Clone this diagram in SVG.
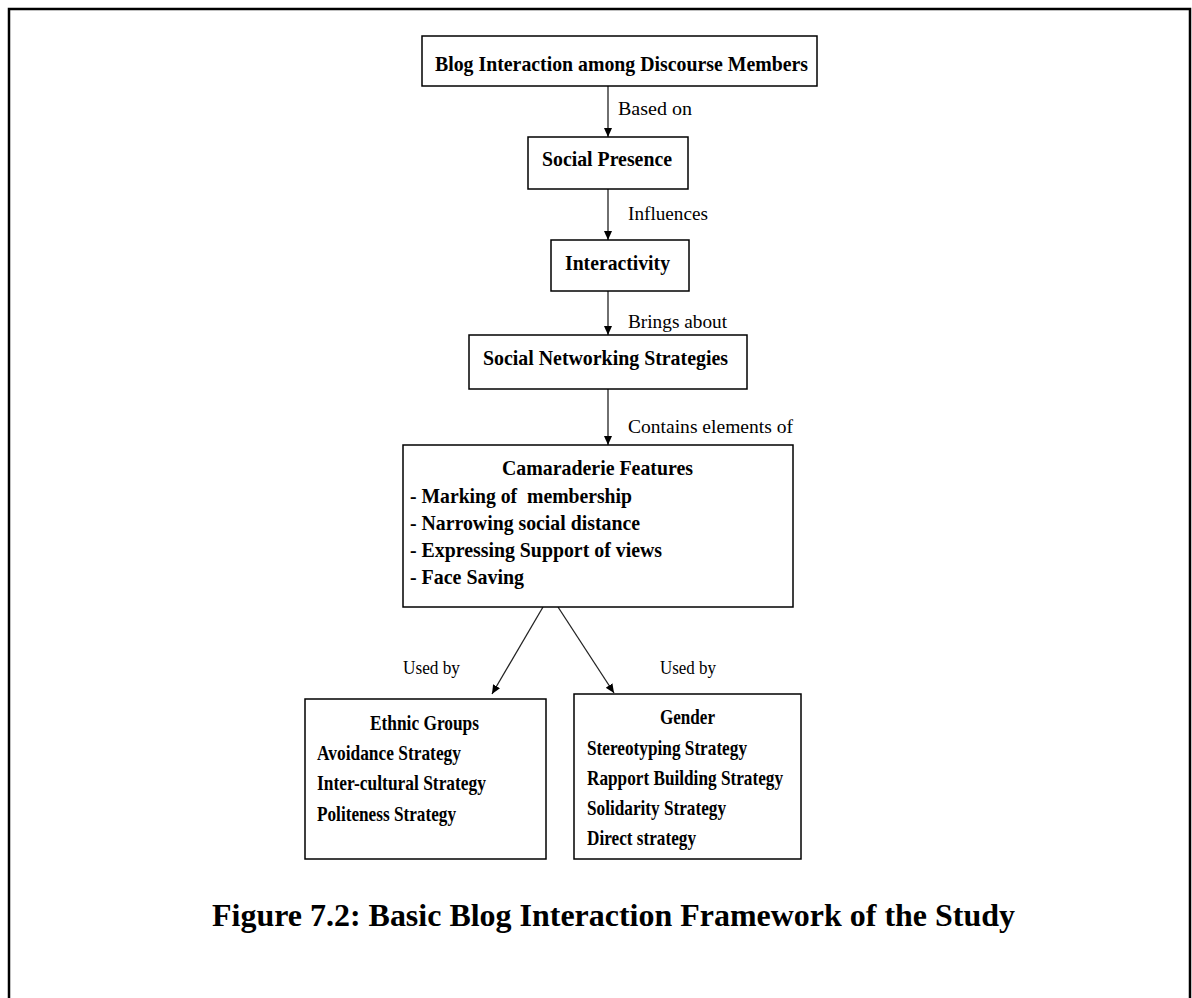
<svg xmlns="http://www.w3.org/2000/svg" width="1192" height="998" viewBox="0 0 1192 998">
<style>
.box{fill:#fff;stroke:#000;stroke-width:1.5}
.t{font-family:"Liberation Serif","Times New Roman",serif;font-weight:bold;font-size:21px;fill:#000}
.l{font-family:"Liberation Serif","Times New Roman",serif;font-size:18px;fill:#000}
.cap{font-family:"Liberation Serif","Times New Roman",serif;font-weight:bold;font-size:32px;fill:#000}
.c{stroke:#222;stroke-width:1.3;fill:none;marker-end:url(#ah)}
</style>
<defs>
<marker id="ah" markerWidth="10" markerHeight="10" refX="9" refY="4" orient="auto" markerUnits="userSpaceOnUse">
<path d="M0,0 L9,4 L0,8 Z" fill="#000"/>
</marker>
</defs>
<rect width="1192" height="998" fill="#fff"/>
<path d="M9,998 V9 H1190 V998" fill="none" stroke="#000" stroke-width="2.5"/>

<g id="connectors">
<line class="c" x1="608" y1="86" x2="608" y2="137"/>
<line class="c" x1="608" y1="189" x2="608" y2="240"/>
<line class="c" x1="608" y1="291" x2="608" y2="335"/>
<line class="c" x1="608" y1="389" x2="608" y2="445"/>
<line class="c" x1="543" y1="607" x2="492" y2="694"/>
<line class="c" x1="558" y1="607" x2="614" y2="693"/>
<text class="l" x="618" y="115" textLength="74" lengthAdjust="spacingAndGlyphs">Based on</text>
<text class="l" x="628" y="220" textLength="80" lengthAdjust="spacingAndGlyphs">Influences</text>
<text class="l" x="628" y="328" textLength="99" lengthAdjust="spacingAndGlyphs">Brings about</text>
<text class="l" x="628" y="433" textLength="165" lengthAdjust="spacingAndGlyphs">Contains elements of</text>
<text class="l" x="403" y="674" textLength="57" lengthAdjust="spacingAndGlyphs">Used by</text>
<text class="l" x="660" y="674" textLength="56" lengthAdjust="spacingAndGlyphs">Used by</text>
</g>

<g id="blog-interaction">
<rect class="box" x="422" y="36" width="395" height="50"/>
<text class="t" x="435" y="71" textLength="373" lengthAdjust="spacingAndGlyphs">Blog Interaction among Discourse Members</text>
</g>

<g id="social-presence">
<rect class="box" x="528" y="137" width="160" height="52"/>
<text class="t" x="542" y="166" textLength="130" lengthAdjust="spacingAndGlyphs">Social Presence</text>
</g>

<g id="interactivity">
<rect class="box" x="551" y="240" width="138" height="51"/>
<text class="t" x="565" y="270" textLength="105" lengthAdjust="spacingAndGlyphs">Interactivity</text>
</g>

<g id="social-networking">
<rect class="box" x="469" y="335" width="278" height="54"/>
<text class="t" x="483" y="365" textLength="245" lengthAdjust="spacingAndGlyphs">Social Networking Strategies</text>
</g>

<g id="camaraderie">
<rect class="box" x="403" y="445" width="390" height="162"/>
<text class="t" x="502" y="475" textLength="191" lengthAdjust="spacingAndGlyphs">Camaraderie Features</text>
<text class="t" x="410" y="503" textLength="222" lengthAdjust="spacingAndGlyphs" xml:space="preserve">- Marking of  membership</text>
<text class="t" x="410" y="530" textLength="230" lengthAdjust="spacingAndGlyphs">- Narrowing social distance</text>
<text class="t" x="410" y="557" textLength="252" lengthAdjust="spacingAndGlyphs">- Expressing Support of views</text>
<text class="t" x="410" y="584" textLength="114" lengthAdjust="spacingAndGlyphs">- Face Saving</text>
</g>

<g id="ethnic-groups">
<rect class="box" x="305" y="699" width="241" height="160"/>
<text class="t" x="370" y="730" textLength="109" lengthAdjust="spacingAndGlyphs">Ethnic Groups</text>
<text class="t" x="317" y="760" textLength="144" lengthAdjust="spacingAndGlyphs">Avoidance Strategy</text>
<text class="t" x="317" y="790" textLength="169" lengthAdjust="spacingAndGlyphs">Inter-cultural Strategy</text>
<text class="t" x="317" y="821" textLength="139" lengthAdjust="spacingAndGlyphs">Politeness Strategy</text>
</g>

<g id="gender">
<rect class="box" x="574" y="694" width="227" height="165"/>
<text class="t" x="660" y="724" textLength="55" lengthAdjust="spacingAndGlyphs">Gender</text>
<text class="t" x="587" y="755" textLength="160" lengthAdjust="spacingAndGlyphs">Stereotyping Strategy</text>
<text class="t" x="587" y="785" textLength="196" lengthAdjust="spacingAndGlyphs">Rapport Building Strategy</text>
<text class="t" x="587" y="815" textLength="139" lengthAdjust="spacingAndGlyphs">Solidarity Strategy</text>
<text class="t" x="587" y="845" textLength="109" lengthAdjust="spacingAndGlyphs">Direct strategy</text>
</g>

<text class="cap" x="212" y="926" textLength="803" lengthAdjust="spacingAndGlyphs">Figure 7.2: Basic Blog Interaction Framework of the Study</text>
</svg>
